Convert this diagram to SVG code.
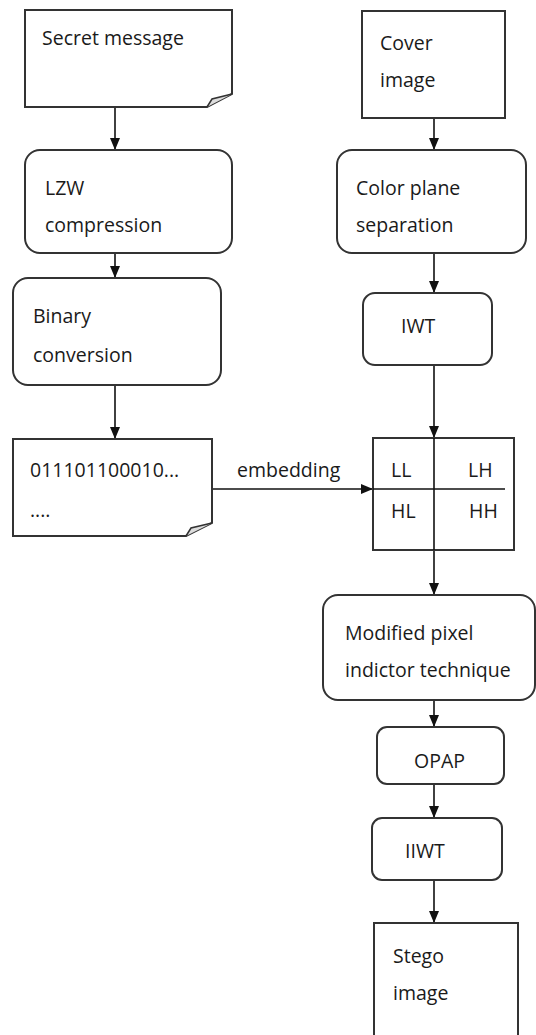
<svg xmlns="http://www.w3.org/2000/svg" width="536" height="1035" viewBox="0 0 536 1035">
<style>
.box{fill:#fff;stroke:#333;stroke-width:2}
.fold{fill:#ddd;stroke:#333;stroke-width:1.5}
.t{font-family:"Open Sans","Liberation Sans",sans-serif;font-size:19.5px;fill:#1a1a1a}
.c{stroke:#111;stroke-width:1.6;fill:none}
</style>
<defs>
<marker id="ah" viewBox="0 0 12 10" refX="12" refY="5" markerWidth="12" markerHeight="10" markerUnits="userSpaceOnUse" orient="auto">
<path d="M0,0 L12,5 L0,10 z" fill="#111"/>
</marker>
</defs>
<rect width="536" height="1035" fill="#fff"/>
<g id="connectors">
<line class="c" x1="115" y1="107" x2="115" y2="150" marker-end="url(#ah)"/>
<line class="c" x1="115" y1="253" x2="115" y2="278" marker-end="url(#ah)"/>
<line class="c" x1="115" y1="385" x2="115" y2="439" marker-end="url(#ah)"/>
<line class="c" x1="434" y1="118" x2="434" y2="150" marker-end="url(#ah)"/>
<line class="c" x1="434" y1="253" x2="434" y2="293" marker-end="url(#ah)"/>
<line class="c" x1="434" y1="365" x2="434" y2="438" marker-end="url(#ah)"/>
<line class="c" x1="434" y1="550" x2="434" y2="595" marker-end="url(#ah)"/>
<line class="c" x1="434" y1="700" x2="434" y2="727" marker-end="url(#ah)"/>
<line class="c" x1="434" y1="784" x2="434" y2="818" marker-end="url(#ah)"/>
<line class="c" x1="434" y1="880" x2="434" y2="923" marker-end="url(#ah)"/>
<line class="c" x1="212" y1="489" x2="373" y2="489" marker-end="url(#ah)"/>
<text class="t" x="237" y="477">embedding</text>
</g>
<g id="secret">
<path class="box" d="M25,10 H232 V94 L207,107 H25 Z"/>
<path class="fold" d="M207,107 L212,99 L232,94"/>
<text class="t" x="42" y="45">Secret message</text>
</g>
<g id="lzw">
<rect class="box" x="25" y="150" width="207" height="103" rx="15"/>
<text class="t" x="45" y="195">LZW</text>
<text class="t" x="45" y="232">compression</text>
</g>
<g id="binary">
<rect class="box" x="13" y="278" width="208" height="107" rx="15"/>
<text class="t" x="33" y="323">Binary</text>
<text class="t" x="33" y="362">conversion</text>
</g>
<g id="bits">
<path class="box" d="M13,439 H212 V523 L186,536 H13 Z"/>
<path class="fold" d="M186,536 L191,528 L212,523"/>
<text class="t" x="30" y="477">011101100010...</text>
<text class="t" x="30" y="517">....</text>
</g>
<g id="cover">
<rect class="box" x="362" y="11" width="143" height="107"/>
<text class="t" x="380" y="50">Cover</text>
<text class="t" x="380" y="87">image</text>
</g>
<g id="colorplane">
<rect class="box" x="337" y="150" width="189" height="103" rx="15"/>
<text class="t" x="356" y="195">Color plane</text>
<text class="t" x="356" y="232">separation</text>
</g>
<g id="iwt">
<rect class="box" x="363" y="293" width="129" height="72" rx="12"/>
<text class="t" x="401" y="333">IWT</text>
</g>
<g id="subbands">
<rect class="box" x="373" y="438" width="141" height="112"/>
<line class="c" x1="373" y1="489" x2="505" y2="489"/>
<line class="c" x1="434" y1="438" x2="434" y2="550"/>
<text class="t" x="391" y="477">LL</text>
<text class="t" x="468" y="477">LH</text>
<text class="t" x="391" y="518">HL</text>
<text class="t" x="469" y="518">HH</text>
</g>
<g id="modified">
<rect class="box" x="323" y="595" width="212" height="105" rx="15"/>
<text class="t" x="345" y="640">Modified pixel</text>
<text class="t" x="345" y="677">indictor technique</text>
</g>
<g id="opap">
<rect class="box" x="377" y="727" width="127" height="57" rx="10"/>
<text class="t" x="414" y="768">OPAP</text>
</g>
<g id="iiwt">
<rect class="box" x="372" y="818" width="130" height="62" rx="10"/>
<text class="t" x="405" y="858">IIWT</text>
</g>
<g id="stego">
<rect class="box" x="374" y="923" width="144" height="120"/>
<text class="t" x="393" y="963">Stego</text>
<text class="t" x="393" y="1000">image</text>
</g>
</svg>
